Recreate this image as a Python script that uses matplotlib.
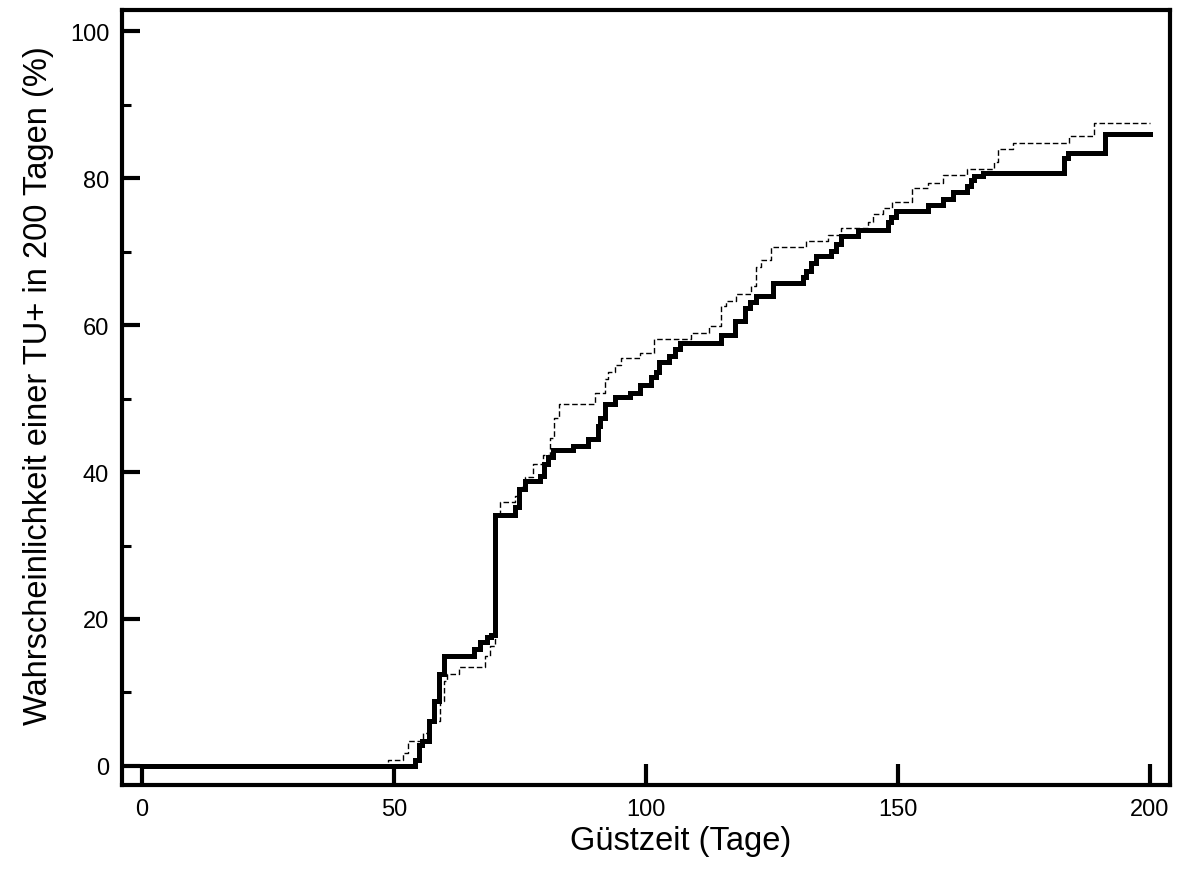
import matplotlib
matplotlib.use("Agg")
import matplotlib.pyplot as plt
from matplotlib.ticker import MultipleLocator

plt.rcParams['font.family'] = ['Liberation Sans', 'DejaVu Sans']

# Tage, an denen die Kurve springt, und Wert danach (%)
tage_solid = [0, 54.2, 55.0, 55.6, 56.9, 57.9, 58.9, 59.9, 65.9, 67.0, 68.4, 69.3,
              70.0, 74.0, 74.9, 76.0, 78.9, 79.8, 80.6, 81.6, 85.6, 88.5, 90.5,
              91.0, 91.9, 93.8, 96.8, 98.8, 101.1, 102.1, 102.7, 104.6, 105.7,
              106.7, 115.0, 117.6, 119.6, 120.6, 121.9, 125.2, 131.1, 131.8,
              132.8, 133.8, 136.8, 137.8, 138.8, 142.0, 148.0, 148.7, 149.7,
              155.9, 158.9, 161.0, 163.8, 164.5, 165.2, 166.8, 183.0, 183.7,
              191.0, 200]
wert_solid = [0, 0.8, 2.9, 3.4, 6.1, 8.9, 12.5, 14.9, 15.9, 16.8, 17.5, 17.8,
              34.2, 35.2, 37.7, 38.8, 39.5, 41.1, 42.0, 43.0, 43.6, 44.5, 46.3,
              47.4, 49.2, 50.2, 50.8, 51.8, 52.9, 53.6, 55.0, 55.8, 56.7,
              57.6, 58.6, 60.6, 62.4, 63.1, 64.0, 65.8, 66.6, 67.4,
              68.5, 69.4, 70.1, 71.0, 72.1, 72.9, 74.0, 74.7, 75.6,
              76.3, 77.2, 78.1, 79.0, 79.7, 80.3, 80.7, 82.7, 83.4,
              86.0, 86.0]

tage_dash = [0, 48.9, 51.9, 52.9, 55.8, 57.0, 59.1, 60.0, 60.5, 62.9, 68.0, 69.0,
             70.0, 71.0, 74.0, 75.0, 76.1, 77.6, 79.6, 80.9, 81.7, 82.8, 89.9,
             91.8, 92.5, 93.8, 95.1, 98.8, 101.7, 109.0, 112.6, 115.0, 116.0,
             117.9, 120.9, 121.9, 122.9, 124.9, 131.8, 136.1, 138.8, 144.0,
             145.0, 147.0, 148.8, 152.9, 155.9, 158.9, 163.8, 169.0, 169.8,
             172.9, 183.9, 189.0, 200]
wert_dash = [0, 0.8, 1.8, 3.4, 4.5, 6.1, 8.9, 11.6, 12.5, 13.4, 15.0, 16.3,
             34.0, 35.9, 36.8, 38.0, 39.3, 41.1, 42.3, 44.7, 47.4, 49.3, 50.7,
             52.7, 53.6, 54.6, 55.5, 56.2, 58.1, 58.9, 59.9, 62.6, 63.3,
             64.2, 65.3, 67.9, 68.8, 70.6, 71.5, 72.3, 73.2, 74.0,
             75.1, 75.9, 76.8, 78.6, 79.4, 80.4, 81.3, 82.2, 84.0,
             84.8, 85.8, 87.5, 87.5]

fig = plt.figure(figsize=(11.79, 8.79), dpi=100)
ax = fig.add_axes([0.1032, 0.1058, 0.8892, 0.8817])

ax.step(tage_dash, wert_dash, where='post', color='black', lw=1.0,
        linestyle=(0, (4, 2)))
ax.step(tage_solid, wert_solid, where='post', color='black', lw=3.6,
        solid_joinstyle='miter')

ax.set_xlim(-4, 204)
ax.set_ylim(-2.6, 102.9)

ax.xaxis.set_major_locator(MultipleLocator(50))
ax.yaxis.set_major_locator(MultipleLocator(20))
ax.yaxis.set_minor_locator(MultipleLocator(10))

for s in ax.spines.values():
    s.set_linewidth(3)

ax.tick_params(axis='x', which='major', direction='in', length=15, width=3,
               labelsize=17, pad=9)
ax.tick_params(axis='y', which='major', direction='in', length=13, width=3,
               labelsize=17, pad=9)
ax.tick_params(axis='y', which='minor', direction='in', length=6.5, width=2.2)

ax.set_xlabel('Güstzeit (Tage)', fontsize=23.5, va='center')
ax.set_ylabel('Wahrscheinlichkeit einer TU+ in 200 Tagen (%)', fontsize=23.5,
              va='center', ha='center')
ax.xaxis.set_label_coords(0.533, -0.0715)
ax.yaxis.set_label_coords(-0.0798, 0.517)

fig.savefig('out.png', dpi=100)
